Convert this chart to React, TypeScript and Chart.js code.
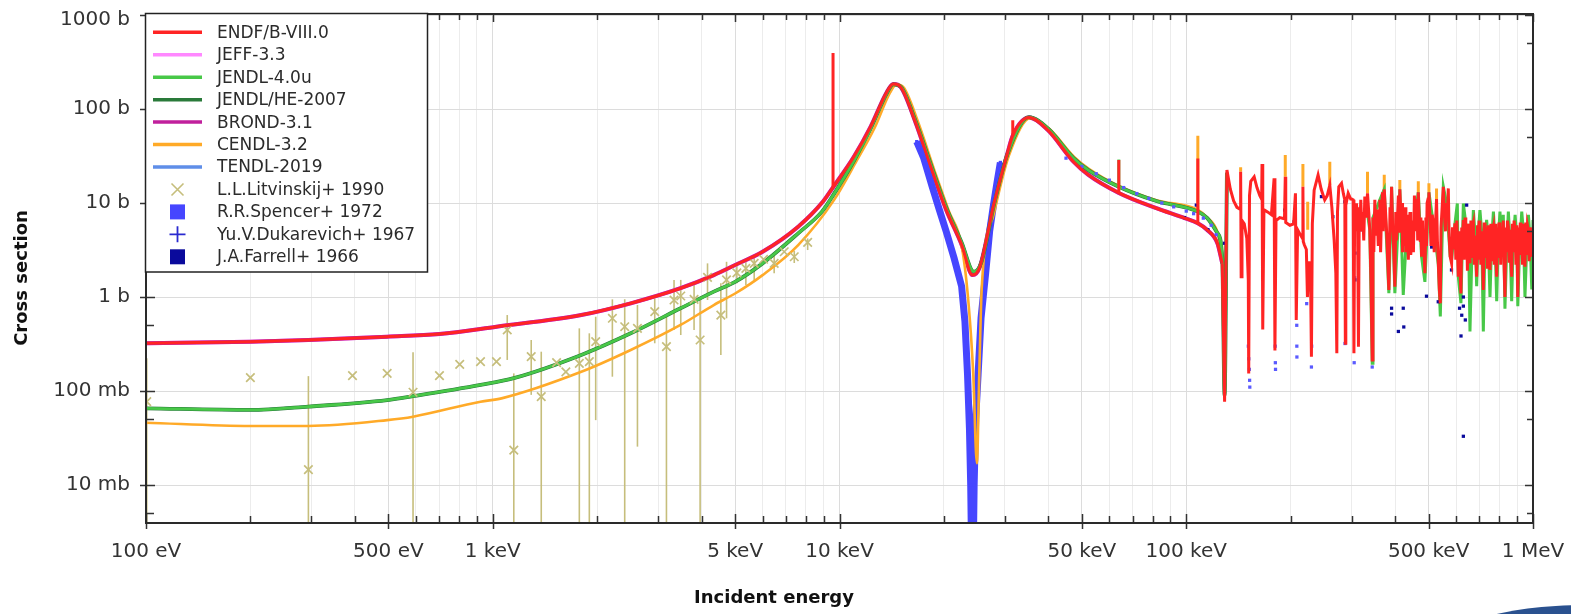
import { useEffect, useRef } from 'react';
import { Chart, registerables } from 'chart.js';

Chart.register(...registerables);

type P = [number, number | null];
type EP = [number, number, number | null, number | null];

// ---------- axes ----------
const X_TICKS = [
  100, 200, 300, 400, 500, 600, 700, 800, 900,
  1e3, 2e3, 3e3, 4e3, 5e3, 6e3, 7e3, 8e3, 9e3,
  1e4, 2e4, 3e4, 4e4, 5e4, 6e4, 7e4, 8e4, 9e4,
  1e5, 2e5, 3e5, 4e5, 5e5, 6e5, 7e5, 8e5, 9e5, 1e6,
];
const X_LABELS: Record<string, string> = {
  '100': '100 eV', '500': '500 eV', '1000': '1 keV', '5000': '5 keV', '10000': '10 keV',
  '50000': '50 keV', '100000': '100 keV', '500000': '500 keV', '1000000': '1 MeV',
};
const Y_TICKS = [0.005, 0.01, 0.05, 0.1, 0.5, 1, 5, 10, 50, 100, 500, 1000];
const Y_LABELS: Record<string, string> = {
  '0.01': '10 mb', '0.1': '100 mb', '1': '1 b', '10': '10 b', '100': '100 b', '1000': '1000 b',
};
const X_MIN = 100;
const X_MAX = 1e6;
const Y_MIN = 0.003944;
const Y_MAX = 1024.8;

// ---------- evaluated data (E in eV, cross section in b) ----------
const ENDF_LOW: P[] = [
  [100, 0.322], [200, 0.335], [294, 0.349], [496, 0.378], [702, 0.404], [1025, 0.483],
  [1800, 0.643], [2500, 0.857], [3480, 1.24], [4340, 1.71], [5000, 2.19], [6000, 3.03],
  [7600, 5.6], [8950, 10.3], [9580, 14.7], [11000, 31], [12300, 65], [13700, 152],
  [14300, 184], [15000, 172], [16500, 75], [18500, 22], [20300, 8.5], [22500, 3.6],
  [24200, 1.71], [25400, 2.1], [27900, 9.9], [30500, 33.8], [31600, 52], [35200, 81],
  [39900, 59.6], [47300, 27.5], [52200, 19.9], [63900, 12.8], [82000, 8.8], [99000, 6.9],
  [108000, 6.08], [115000, 5.16], [123000, 3.72], [127000, 2.28],
];
// narrow resonances standing out of the smooth ENDF curve (pairs, gaps between)
const ENDF_SPIKES: P[] = [
  [9580, 14.7], [9580, 395], [9580, null],
  [31600, 52], [31600, 76], [31600, null],
  [63900, 12.8], [63900, 28.7], [63900, null],
  [108000, 6.08], [108000, 29.8],
];
const ENDF_FOREST: P[] = [
  [127000, 2.28], [129000, 0.077], [131000, 22.4], [134000, 14], [137000, 10.5], [140000, 9.0],
  [143000, 8.6], [143500, 21.5], [144000, 1.64], [144800, 6.5], [147000, 6.0], [149500, 4.2],
  [151000, 1.5], [151400, 0.154], [152200, 12], [153500, 17], [157000, 19], [160000, 14.5],
  [163000, 12], [165000, 11], [165400, 26], [166200, 0.45], [167500, 8.5], [172000, 8],
  [176000, 7.5], [179200, 18.3], [180200, 0.27], [181500, 6.5], [186000, 7.0], [192000, 6.8],
  [193000, 19], [193600, 6.2], [199000, 5.8], [204000, 6], [206500, 12.7], [207600, 0.57],
  [209500, 5.2], [214000, 4.5], [216500, 4.2], [217000, 14.9], [217500, 3.9], [219000, 3.6],
  [222000, 3.2], [223600, 1.0], [226000, 2.4], [228500, 1.2], [229600, 0.232], [231000, 6],
  [233800, 13.7], [240000, 19.9], [245000, 14], [250800, 10.8], [255000, 12], [259400, 15.5],
  [263000, 9], [267000, 4.04], [270000, 1.8], [271800, 0.252], [273000, 8], [275400, 14.9],
  [280400, 16.2], [284000, 12.5], [286600, 10.8], [287600, 0.322], [288500, 9.5], [293100, 12.7],
  [298000, 11], [300000, 11], [303000, 10.8], [304500, 0.252], [306000, 9], [308000, 5],
  [309700, 9.9], [312000, 6], [313800, 0.296], [315500, 9], [317000, 6], [318700, 10.8],
  [321000, 5], [323000, 8], [325000, 4], [327300, 11.7], [330000, 7], [333200, 12.7],
  [336000, 8], [338300, 5.16], [341000, 1.5], [343800, 0.214], [345500, 7], [347500, 3],
  [349800, 10.8], [352000, 4.5], [355000, 8.5], [358000, 3.5], [360000, 7], [361700, 10.8],
  [363500, 3], [365000, 6], [368000, 13], [370000, 5], [372400, 14], [375000, 9],
  [378100, 5.16], [381000, 2.5], [384000, 1.19], [387000, 9], [389000, 5], [391000, 14.9],
  [394000, 5], [396500, 3.2], [399600, 1.29], [402000, 8], [404000, 4], [406000, 6],
  [409000, 12], [411000, 5], [413000, 14], [416000, 7], [419000, 10], [420500, 3],
  [422500, 6.08], [425000, 3.5], [428000, 9], [430000, 3], [431900, 4.76], [435000, 7.5],
  [437000, 2.5], [439000, 5.5], [442000, 8], [444000, 2.8], [446500, 3.73], [450000, 6.5],
  [452000, 3], [455000, 12], [457000, 5], [460000, 9], [463000, 11], [465000, 4],
  [466900, 13], [470000, 6], [473000, 4], [475000, 7], [477200, 2.68], [480000, 6.5],
  [482000, 3], [484000, 4], [487800, 1.79], [491000, 7], [493000, 3.5], [495000, 10],
  [498000, 11], [501000, 13], [504000, 8], [508000, 3.5], [512000, 7.5], [515900, 6.08],
  [519000, 3], [523000, 5.5], [527000, 11], [530000, 4], [533300, 2.28], [537000, 1.2],
  [540400, 0.857], [543000, 5.5], [547000, 9], [551300, 14.9], [555000, 8], [559000, 5],
  [563000, 10], [566000, 7], [569800, 14.3], [573000, 4.5], [577000, 2.7], [582400, 2.28],
  [586000, 5.5], [590000, 3.2], [595500, 6.08], [599000, 2.5], [603000, 6.5], [606000, 3],
  [609000, 1.64], [612000, 5], [615000, 2.2], [619700, 1.09], [623000, 5.5], [626000, 3.8],
  [629700, 6.6], [633000, 2.5], [637000, 7], [640000, 3], [643700, 5.16], [647000, 1.9],
  [651000, 6], [654000, 3.5], [658000, 2.28], [662000, 6.5], [666000, 2.6], [669000, 5.5],
  [673000, 6.08], [677000, 2.2], [681000, 4.5], [687900, 1.64], [692000, 5.8], [696000, 2.5],
  [699000, 6.5], [703000, 5.6], [707000, 2.2], [711000, 5], [715000, 2.6], [719000, 1.19],
  [723000, 6.2], [727000, 2.6], [731000, 5.5], [735000, 4.76], [739000, 2], [743000, 5.8],
  [747000, 3], [751600, 1.94], [756000, 6], [760000, 2.4], [764000, 5], [768800, 5.6],
  [773000, 2.2], [777000, 6], [781000, 3], [785800, 1.64], [790000, 5.5], [794000, 2.6],
  [798000, 6.2], [803000, 5.16], [807000, 2.2], [812000, 5.6], [816000, 2.8], [821000, 6.5],
  [825000, 2.3], [830000, 1.0], [834000, 5.5], [839000, 3], [844000, 6.5], [849000, 5.6],
  [853000, 2.4], [858000, 5.2], [863000, 2.8], [868000, 1.64], [872000, 6], [877000, 3],
  [882000, 6.5], [888000, 5.16], [893000, 2.2], [898000, 5.8], [904000, 1.0], [909000, 5.5],
  [914000, 2.8], [919000, 6.2], [923000, 3], [928000, 4.38], [933000, 2.2], [938000, 6],
  [943000, 3.2], [948000, 2.1], [953000, 6.2], [958000, 2.8], [964000, 5.8], [970000, 5.16],
  [975000, 2.4], [981000, 5.5], [986000, 3.2], [992000, 2.68], [996000, 5], [1000000, 3.73],
];
const JENDL_LOW: P[] = [
  [100, 0.0655], [200, 0.0629], [294, 0.0683], [496, 0.080], [589, 0.088], [922, 0.116],
  [1150, 0.137], [1800, 0.242], [2500, 0.411], [3480, 0.758], [4340, 1.14], [5000, 1.45],
  [6000, 2.28], [7600, 4.76], [8900, 8.1], [9600, 12.2], [11000, 28], [12300, 62],
  [13700, 148], [14300, 183], [15000, 174], [16500, 78], [18500, 23.5], [20300, 9.0],
  [22500, 3.8], [24400, 1.86], [25600, 2.3], [27900, 9.6], [30500, 33], [35200, 82],
  [39900, 62], [47300, 30], [52200, 22.4], [63900, 14.9], [82000, 10.5], [108000, 8.1],
  [115000, 6.9], [123000, 4.8], [127000, 2.6], [129000, 0.09], [131000, 21],
];
const JENDL_SPIKES: P[] = [[63900, 14.9], [63900, 29]];
const JENDL_HIGH: P[] = [
  [330000, 10], [338300, 5.16], [343800, 0.197], [345500, 7], [361700, 10.8], [372400, 14],
  [384000, 1.1], [391000, 14.9], [399600, 1.1], [413000, 14], [422500, 1.05], [431900, 4.76],
  [446500, 3.73], [466900, 13], [477200, 2.68], [487800, 1.45], [501000, 13], [515900, 6],
  [533300, 2.2], [540400, 0.62], [551300, 14.9], [563000, 10], [577000, 2.7], [582400, 2.5],
  [595500, 6], [605000, 9.9], [609000, 1.64], [619700, 0.86], [629700, 9.9], [637000, 7],
  [643700, 4], [651000, 6], [658000, 0.43], [666000, 2.6], [673000, 8.4], [681000, 4.5],
  [687900, 1.3], [696000, 5], [703000, 8.4], [711000, 5], [719000, 0.43], [727000, 4],
  [735000, 6.6], [743000, 4], [751600, 1.0], [760000, 4], [768800, 8.1], [777000, 4],
  [785800, 0.9], [794000, 4], [803000, 8.1], [812000, 4], [821000, 7.5], [830000, 0.75],
  [839000, 3], [849000, 8.1], [858000, 4], [868000, 0.9], [877000, 4], [888000, 7.5],
  [898000, 4], [904000, 0.8], [914000, 3], [928000, 8.1], [938000, 5], [948000, 1.0],
  [958000, 3], [970000, 7.5], [981000, 4], [992000, 1.2], [1000000, 6.6],
];
const CENDL_LOW: P[] = [
  [100, 0.046], [200, 0.0425], [294, 0.0425], [496, 0.049], [589, 0.0533], [922, 0.077],
  [1060, 0.0835], [1800, 0.16], [2500, 0.273], [3480, 0.504], [4340, 0.822], [5000, 1.09],
  [6000, 1.71], [7600, 3.57], [9650, 10.8], [11200, 28], [12600, 62], [14000, 150],
  [14600, 182], [15300, 170], [16800, 75], [18800, 22], [20600, 8.5], [22600, 3.2],
  [23600, 0.79], [24300, 0.155], [24900, 0.0171], [25300, 0.155], [25700, 1.19], [27900, 7.8],
  [30800, 32], [35500, 80], [40200, 62], [47500, 31], [52500, 23], [64000, 15.2],
  [82000, 10.7], [108000, 8.45], [115000, 7], [123000, 4.9], [127000, 2.7],
];
// CENDL-3.2 resonance tops that stand out above ENDF (pairs separated by gaps)
const CENDL_TIPS: P[] = [
  [108000, 8.45], [108000, 52], [108000, null],
  [143500, 21.5], [143500, 24], [143500, null],
  [193000, 19], [193000, 32.5], [193000, null],
  [217000, 14.9], [217000, 26], [217000, null],
  [224000, 5.2], [224000, 10.3], [224000, null],
  [259400, 15.5], [259400, 27.4], [259400, null],
  [333200, 12.7], [333200, 21.5], [333200, null],
  [372400, 14], [372400, 20], [372400, null],
  [413000, 14], [413000, 17.6], [413000, null],
  [466900, 13], [466900, 17], [466900, null],
  [501000, 13], [501000, 16.2], [501000, null],
  [527000, 11], [527000, 14.3],
];

// ---------- experimental data ----------
// [E, sigma, lower error end, upper error end]
const LITVINSKIJ: EP[] = [
  [100.5, 0.077, 0.001, 0.223], [200, 0.139, null, null], [294, 0.0146, 0.001, 0.144],
  [394, 0.146, null, null], [496, 0.154, null, null], [589, 0.097, 0.001, 0.258],
  [702, 0.146, null, null], [803, 0.192, null, null], [922, 0.205, null, null],
  [1025, 0.205, null, null], [1101, 0.446, 0.214, 0.643], [1150, 0.0235, 0.001, 0.154],
  [1291, 0.232, 0.091, 0.349], [1380, 0.087, 0.001, 0.262], [1528, 0.2, null, null],
  [1625, 0.16, null, null], [1777, 0.197, 0.001, 0.464], [1899, 0.205, 0.001, 0.411],
  [1981, 0.335, 0.049, 0.617], [2213, 0.594, 0.142, 0.944], [2402, 0.483, 0.001, 0.944],
  [2614, 0.464, 0.0256, 0.822], [2932, 0.698, 0.322, 0.968], [3169, 0.296, 0.001, 0.643],
  [3333, 0.929, 0.446, 1.52], [3485, 1.025, 0.394, 1.52], [3807, 0.944, 0.446, 1.4],
  [3963, 0.349, 0.001, 0.929], [4163, 1.62, 0.929, 2.28], [4548, 0.643, 0.242, 1.4],
  [4723, 1.52, 0.594, 2.37], [5058, 1.81, 1.4, 2.19], [5370, 2.02, 1.34, 2.47],
  [5675, 2.28, 1.52, 2.68], [6040, 2.52, null, null], [6480, 2.28, 1.79, 2.9],
  [6928, 3.03, null, null], [7405, 2.68, 2.3, 3.1], [8094, 3.82, 3.16, 4.2],
];
// dense Spencer points through the 24 keV interference minimum (drawn as a band)
const SPENCER_DIP: P[] = [
  [16700, 45], [17500, 30], [18500, 15], [19400, 8.5], [20300, 5], [21400, 2.6],
  [22500, 1.3], [23000, 0.55], [23400, 0.15], [23700, 0.04], [23900, 0.01], [24000, 0.003],
  [24350, 0.003], [24450, 0.01], [24700, 0.05], [25100, 0.15], [25600, 0.6], [26400, 1.8],
  [27100, 5], [27800, 9.5], [28500, 17], [29100, 27],
];
const SPENCER_PTS: P[] = [
  [45000, 30], [50000, 24.5], [55000, 20.5], [60000, 17.5], [66000, 14.6], [72000, 12.6],
  [78000, 11.2], [85000, 10], [92000, 9.1], [100000, 8.2], [105000, 7.7], [112000, 6.9],
  [118000, 5.8], [122000, 4.6],
  [151000, 0.3], [151500, 0.22], [152000, 0.17], [152300, 0.13], [152500, 0.11],
  [180500, 0.3], [180700, 0.2], [180900, 0.17], [208300, 0.5], [208400, 0.3], [208500, 0.23],
  [222500, 0.85], [229600, 0.18], [230000, 0.3], [287000, 0.32], [305000, 0.2], [306000, 1.6],
  [343800, 0.18],
];
const DUKAREVICH: P[] = [];
const FARRELL: P[] = [
  [98900, 7.0], [106900, 9.5], [115500, 5.2], [129000, 3.73], [192200, 8.4], [204600, 6.3],
  [245400, 11.7], [264700, 7.15], [286600, 10.3], [306600, 2.93], [306600, 1.52], [320000, 5.2],
  [349800, 5.6], [391000, 0.76], [391000, 0.66], [409000, 0.43], [422500, 0.76], [424000, 0.48],
  [446500, 4.2], [493000, 1.02], [510000, 3.4], [533000, 0.89], [582000, 1.94], [614000, 0.76],
  [620000, 0.385], [623000, 0.64], [629700, 1.0], [629700, 0.8], [638000, 0.57], [643700, 9.5],
  [629700, 0.033],
];

// ---------- styles ----------
const C_ENDF = '#ff2424';
const C_JEFF = '#ff88ff';
const C_JENDL = '#48c848';
const C_JENDLHE = '#2a7a3a';
const C_BROND = '#c0209c';
const C_CENDL = '#ffaa28';
const C_TENDL = '#5f8ee8';
const C_LITV = '#c6be7c';
const C_SPENCER = '#4646ff';
const C_DUKA = '#2a2ad0';
const C_FARRELL = '#0a0a9c';

const LEGEND: { label: string; kind: string; color: string }[] = [
  { label: 'ENDF/B-VIII.0', kind: 'line', color: C_ENDF },
  { label: 'JEFF-3.3', kind: 'line', color: C_JEFF },
  { label: 'JENDL-4.0u', kind: 'line', color: C_JENDL },
  { label: 'JENDL/HE-2007', kind: 'line', color: C_JENDLHE },
  { label: 'BROND-3.1', kind: 'line', color: C_BROND },
  { label: 'CENDL-3.2', kind: 'line', color: C_CENDL },
  { label: 'TENDL-2019', kind: 'line', color: C_TENDL },
  { label: 'L.L.Litvinskij+ 1990', kind: 'x', color: C_LITV },
  { label: 'R.R.Spencer+ 1972', kind: 'square', color: C_SPENCER },
  { label: 'Yu.V.Dukarevich+ 1967', kind: 'plus', color: C_DUKA },
  { label: 'J.A.Farrell+ 1966', kind: 'square', color: C_FARRELL },
];

const FONT = 'DejaVu Sans';
const xy = (a: P[]) => a.map(([x, y]) => ({ x, y }));

function lineSet(label: string, data: P[], color: string, width: number, order: number, smooth: boolean) {
  return {
    label, data: xy(data), showLine: true, borderColor: color, backgroundColor: color,
    borderWidth: width, pointRadius: 0, order, tension: 0, clip: 0, spanGaps: false,
    cubicInterpolationMode: smooth ? 'monotone' : 'default',
  };
}

const decor = {
  id: 'decor',
  beforeDraw(chart: any) {
    const { ctx, width, height } = chart;
    ctx.save();
    ctx.fillStyle = '#ffffff';
    ctx.fillRect(0, 0, width, height);
    // logo fragment bottom-right
    ctx.beginPath();
    ctx.ellipse(1585, 652, 150, 47, 0, 0, Math.PI * 2);
    ctx.fillStyle = '#2a518f';
    ctx.fill();
    ctx.restore();
  },
  beforeDatasetsDraw(chart: any) {
    const { ctx, chartArea: a, scales } = chart;
    const x = scales.x, y = scales.y;
    ctx.save();
    ctx.beginPath();
    ctx.rect(a.left, a.top, a.right - a.left, a.bottom - a.top);
    ctx.clip();
    ctx.strokeStyle = C_LITV;
    ctx.lineWidth = 1.6;
    for (const [e, , lo, hi] of LITVINSKIJ) {
      if (lo == null || hi == null) continue;
      const px = x.getPixelForValue(e);
      ctx.beginPath();
      ctx.moveTo(px, y.getPixelForValue(lo));
      ctx.lineTo(px, y.getPixelForValue(hi));
      ctx.stroke();
    }
    ctx.restore();
  },
  afterDraw(chart: any) {
    const { ctx, chartArea: a, scales } = chart;
    const x = scales.x, y = scales.y;
    ctx.save();
    // tick marks
    ctx.strokeStyle = '#333';
    for (const v of X_TICKS) {
      const px = Math.round(x.getPixelForValue(v)) + 0.5;
      const major = X_LABELS[String(v)] !== undefined;
      ctx.lineWidth = 1.5;
      ctx.beginPath();
      ctx.moveTo(px, a.bottom - (major ? 9 : 7));
      ctx.lineTo(px, a.bottom + (major ? 6 : 0));
      ctx.moveTo(px, a.top);
      ctx.lineTo(px, a.top + (major ? 8 : 6));
      ctx.stroke();
    }
    for (const v of Y_TICKS) {
      const py = Math.round(y.getPixelForValue(v)) + 0.5;
      const major = Y_LABELS[String(v)] !== undefined;
      ctx.lineWidth = 1.5;
      ctx.beginPath();
      ctx.moveTo(a.left - (major ? 6 : 0), py);
      ctx.lineTo(a.left + (major ? 9 : 8), py);
      ctx.moveTo(a.right, py);
      ctx.lineTo(a.right - (major ? 8 : 6), py);
      ctx.stroke();
    }
    // frame
    ctx.lineWidth = 2;
    ctx.strokeStyle = '#2a2a2a';
    ctx.strokeRect(a.left, a.top, a.right - a.left, a.bottom - a.top);

    // legend
    const lx = 145.5, ly = 13.5, lw = 282, lh = 258.5;
    ctx.fillStyle = '#ffffff';
    ctx.fillRect(lx, ly, lw, lh);
    ctx.lineWidth = 1.5;
    ctx.strokeStyle = '#222';
    ctx.strokeRect(lx, ly, lw, lh);
    ctx.font = `17px "${FONT}"`;
    ctx.textBaseline = 'middle';
    ctx.textAlign = 'left';
    LEGEND.forEach((it, i) => {
      const cy = 32.3 + i * 22.45;
      const cx = 177.5;
      if (it.kind === 'line') {
        ctx.strokeStyle = it.color;
        ctx.lineWidth = 3.5;
        ctx.beginPath();
        ctx.moveTo(153, cy);
        ctx.lineTo(202, cy);
        ctx.stroke();
      } else if (it.kind === 'x') {
        ctx.strokeStyle = it.color;
        ctx.lineWidth = 1.6;
        ctx.beginPath();
        ctx.moveTo(cx - 6, cy - 6);
        ctx.lineTo(cx + 6, cy + 6);
        ctx.moveTo(cx + 6, cy - 6);
        ctx.lineTo(cx - 6, cy + 6);
        ctx.stroke();
      } else if (it.kind === 'square') {
        ctx.fillStyle = it.color;
        ctx.fillRect(cx - 7.5, cy - 7.5, 15, 15);
      } else if (it.kind === 'plus') {
        ctx.strokeStyle = it.color;
        ctx.lineWidth = 1.8;
        ctx.beginPath();
        ctx.moveTo(cx - 8, cy);
        ctx.lineTo(cx + 8, cy);
        ctx.moveTo(cx, cy - 8);
        ctx.lineTo(cx, cy + 8);
        ctx.stroke();
      }
      ctx.fillStyle = '#2b2b2b';
      ctx.fillText(it.label, 217, cy + 1);
    });

    // axis titles
    ctx.fillStyle = '#111';
    ctx.font = `bold 18px "${FONT}"`;
    ctx.textAlign = 'center';
    ctx.textBaseline = 'middle';
    ctx.fillText('Incident energy', 774, 598);
    ctx.translate(22, 278);
    ctx.rotate(-Math.PI / 2);
    ctx.fillText('Cross section', 0, 0);
    ctx.restore();
  },
};

const zeroPad = (s: any) => {
  s.paddingTop = 0;
  s.paddingBottom = 0;
  s.paddingLeft = 0;
  s.paddingRight = 0;
};

export default function App() {
  const ref = useRef<HTMLCanvasElement | null>(null);
  useEffect(() => {
    if (!ref.current) return;
    const chart = new Chart(ref.current, {
      type: 'scatter',
      data: {
        datasets: [
          lineSet('ENDF/B-VIII.0', ENDF_LOW, C_ENDF, 3, 0, true),
          lineSet('ENDF/B-VIII.0 (spikes)', ENDF_SPIKES, C_ENDF, 3, 0, false),
          lineSet('ENDF/B-VIII.0 (RRR)', ENDF_FOREST, C_ENDF, 3, 0, false),
          {
            label: 'J.A.Farrell+ 1966', data: xy(FARRELL), pointStyle: 'rect', pointRadius: 2.3,
            backgroundColor: C_FARRELL, borderWidth: 0, order: 1, clip: 0,
          },
          {
            label: 'R.R.Spencer+ 1972', data: xy(SPENCER_PTS), pointStyle: 'rect', pointRadius: 2.3,
            backgroundColor: '#5a5aff', borderWidth: 0, order: 1, clip: 0,
          },
          {
            label: 'Yu.V.Dukarevich+ 1967', data: xy(DUKAREVICH), pointStyle: 'cross', pointRadius: 5,
            borderColor: C_DUKA, borderWidth: 1.5, order: 1, clip: 0,
          },
          {
            label: 'L.L.Litvinskij+ 1990', data: xy(LITVINSKIJ.map(([e, s]) => [e, s] as P)),
            pointStyle: 'crossRot', pointRadius: 6, borderColor: C_LITV, backgroundColor: C_LITV,
            borderWidth: 1.7, order: 2, clip: 0,
          },
          lineSet('JENDL-4.0u', JENDL_LOW, C_JENDL, 2.8, 3, true),
          lineSet('JENDL-4.0u (spikes)', JENDL_SPIKES, C_JENDL, 3, 3, false),
          lineSet('JENDL-4.0u (RRR)', JENDL_HIGH, C_JENDL, 3, 3, false),
          lineSet('JENDL/HE-2007', JENDL_LOW, C_JENDLHE, 3.8, 4, true),
          lineSet('CENDL-3.2', CENDL_LOW, C_CENDL, 2.6, 5, true),
          lineSet('CENDL-3.2 (RRR)', CENDL_TIPS, C_CENDL, 3, 5, false),
          {
            ...lineSet('R.R.Spencer+ 1972 (dip)', SPENCER_DIP, C_SPENCER, 7, 6, false),
            pointRadius: 2.3, pointStyle: 'rect', pointBorderWidth: 0,
          },
          lineSet('BROND-3.1', ENDF_LOW, C_BROND, 4, 7, true),
          lineSet('JEFF-3.3', ENDF_LOW, C_JEFF, 4, 8, true),
          lineSet('TENDL-2019', JENDL_LOW, C_TENDL, 2.6, 9, true),
        ] as any,
      },
      options: {
        animation: false,
        responsive: false,
        events: [],
        layout: { padding: { left: 0, top: 14, right: 38, bottom: 0 } },
        plugins: { legend: { display: false }, tooltip: { enabled: false } },
        scales: {
          x: {
            type: 'logarithmic', min: X_MIN, max: X_MAX,
            afterBuildTicks: (s: any) => { s.ticks = X_TICKS.map((v) => ({ value: v })); },
            afterFit: (s: any) => { s.height = 91; zeroPad(s); },
            ticks: {
              autoSkip: false, maxRotation: 0, minRotation: 0, padding: 17, color: '#333',
              font: { family: FONT, size: 20 },
              callback: (v: any) => X_LABELS[String(v)] ?? '',
            },
            grid: {
              drawTicks: false, lineWidth: 1,
              color: (c: any) => (X_LABELS[String(c.tick?.value)] !== undefined ? '#dcdcdc' : '#ececec'),
            },
            border: { display: false },
          },
          y: {
            type: 'logarithmic', min: Y_MIN, max: Y_MAX,
            afterBuildTicks: (s: any) => { s.ticks = Y_TICKS.map((v) => ({ value: v })); },
            afterFit: (s: any) => { s.width = 146; zeroPad(s); },
            ticks: {
              autoSkip: false, padding: 16, color: '#333',
              font: { family: FONT, size: 20, lineHeight: 0.5 },
              callback: (v: any) => {
                const t = Y_LABELS[String(v)] ?? '';
                // the top label sits a little below its tick, as in the source plot
                return v === 1000 ? ['', t] : t;
              },
            },
            grid: {
              drawTicks: false, lineWidth: 1,
              color: (c: any) => (Y_LABELS[String(c.tick?.value)] !== undefined ? '#dcdcdc' : 'rgba(0,0,0,0)'),
            },
            border: { display: false },
          },
        },
      } as any,
      plugins: [decor],
    });
    return () => chart.destroy();
  }, []);
  return (
    <div style={{ position: 'fixed', left: 0, top: 0, width: 1571, height: 614, background: '#fff' }}>
      <canvas ref={ref} width={1571} height={614} style={{ display: 'block' }} />
    </div>
  );
}
